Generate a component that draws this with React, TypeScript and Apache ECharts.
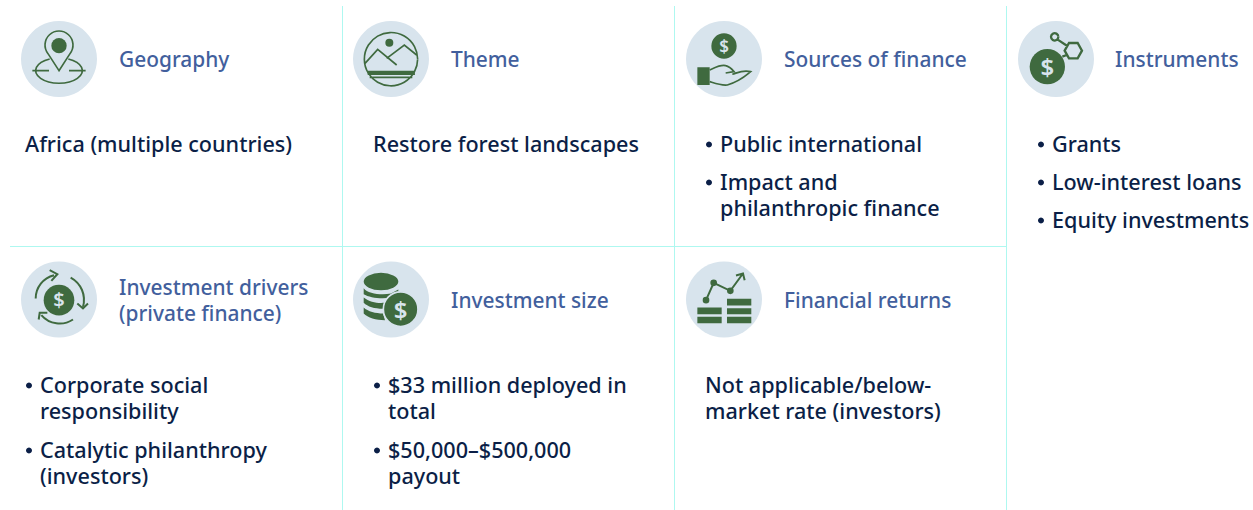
import React, { useEffect, useRef } from "react";
import * as echarts from "echarts";

const FONT = '"Noto Sans"';
const NAVY = "#0b1f47";
const BLUE = "#425f9d";
const GREEN = "#3f6a3f";
const PALE = "#d8e4ed";
const RULE = "#aef8f0";

const headings = ["Geography", "Theme", "Sources of finance", "Instruments"];
const headingsLower = [["Investment drivers", "(private finance)"], ["Investment size"], ["Financial returns"]];

type Line = [string, number, boolean];
const geographyBody: Line[] = [["Africa (multiple countries)", 143.5, false]];
const themeBody: Line[] = [["Restore forest landscapes", 143.5, false]];
const sourcesBody: Line[] = [
  ["Public international", 143.5, true],
  ["Impact and", 181.5, true],
  ["philanthropic finance", 207.5, false],
];
const instrumentsBody: Line[] = [
  ["Grants", 143.5, true],
  ["Low-interest loans", 181.5, true],
  ["Equity investments", 219.5, true],
];
const driversBody: Line[] = [
  ["Corporate social", 384.5, true],
  ["responsibility", 410.5, false],
  ["Catalytic philanthropy", 449.5, true],
  ["(investors)", 475.5, false],
];
const sizeBody: Line[] = [
  ["$33 million deployed in", 384.5, true],
  ["total", 410.5, false],
  ["$50,000–$500,000", 449.5, true],
  ["payout", 475.5, false],
];
const returnsBody: Line[] = [
  ["Not applicable/below-", 384.5, false],
  ["market rate (investors)", 410.5, false],
];

const columnText = [25, 373, 705, 1037];
const columnHeading = [119, 451, 784, 1115];
const columnIcon = [59, 391, 724, 1056];
const rowIcon = [59, 299.5];
const verticals = [342.5, 674.5, 1006.5];

const strokeShapes: Record<string, string> = {
  geoS: "M0 35 L-33 -16 A42 42 0 1 1 33 -16 Z M-28 0 A70 38 0 1 0 28 0 M-80 35 L-30 35 M30 35 L80 35",
  themeS:
    "M80 0 A80 80 0 1 0 80 1 M-78 13 L-40 -29 L17 18 M-13 -2 L40 -42 L77 -12 M-64 55 L64 55",
  handS:
    "M-43 33 C-25 25 -10 16 5 20 C15 22 25 32 30 38 L5 42 M25 46 C40 42 55 32 80 38 C65 50 50 66 10 78 C-10 80 -30 72 -43 68",
  instS: "M4 -59 L34 -39 M19 -7 L32 -12 M26 -25 L39 -48 L65 -48 L78 -25 L65 -2 L39 -2 Z M7 -67 A11 11 0 1 0 7 -66",
  drvS:
    "M-70 -3 A72 72 0 0 1 -15 -73 M-28 -88 L-5 -76 L-23 -56 M35 -66 A76 76 0 0 1 72 22 M55 12 L72 27 L87 12 M42 60 A72 72 0 0 1 -53 47 M-61 60 L-58 40 L-35 40",
  retS: "M-54 2 L-31 -50 L19 -26 L57 -78 M36 -72 L57 -78 L62 -58",
};
const fillShapes: Record<string, string> = {
  geoF: "M-23 -40 A23 23 0 1 1 23 -40 A23 23 0 1 1 -23 -40 Z",
  themeF:
    "M-17 -49 A12 12 0 1 1 7 -49 A12 12 0 1 1 -17 -49 Z M-70 35 L71 35 L72 48 L-70 48 Z",
  handF: "M-80 25 L-43 25 L-43 78 L-80 78 Z M-38 -39 A38 38 0 1 1 38 -39 A38 38 0 1 1 -38 -39 Z",
  instF: "M-79 23 A53 53 0 1 1 27 23 A53 53 0 1 1 -79 23 Z",
  drvF: "M-46 2 A46 46 0 1 1 46 2 A46 46 0 1 1 -46 2 Z",
  sizeF:
    "M-82 -54 A52 26 0 1 1 22 -54 A52 26 0 1 1 -82 -54 Z M-82 -34 C-70 -18 -30 -12 0 -18 L22 -30 L22 -15 L0 -6 C-30 0 -65 -6 -82 -16 Z M-82 -6 C-65 8 -40 12 -20 10 L-24 28 C-50 28 -70 22 -82 10 Z M-82 24 C-70 36 -45 42 -24 42 L-18 62 C-45 62 -70 55 -82 42 Z",
  sizeC: "M-23 29 A52 52 0 1 1 81 29 A52 52 0 1 1 -23 29 Z",
  retF:
    "M-80 24 L-7 24 L-7 44 L-80 44 Z M-80 52 L-7 52 L-7 71 L-80 71 Z M9 -2 L82 -2 L82 18 L9 18 Z M9 26 L82 26 L82 44 L9 44 Z M9 52 L82 52 L82 71 L9 71 Z M-64 2 A10 10 0 1 1 -44 2 A10 10 0 1 1 -64 2 Z M-41 -50 A10 10 0 1 1 -21 -50 A10 10 0 1 1 -41 -50 Z M9 -26 A10 10 0 1 1 29 -26 A10 10 0 1 1 9 -26 Z",
};
[strokeShapes, fillShapes].forEach((set) =>
  Object.keys(set).forEach((k) =>
    echarts.graphic.registerShape(k, echarts.graphic.extendPath(set[k], {}))
  )
);

const icon = (
  cx: number,
  cy: number,
  stroke: string | null,
  fill: string | null,
  lw: number,
  dollar?: [number, number, number],
  ringed?: string
) => {
  const common = { x: cx, y: cy, scaleX: 1 / 3, scaleY: 1 / 3 };
  const els: any[] = [{ type: "circle", shape: { cx, cy, r: 38 }, style: { fill: PALE } }];
  if (fill) els.push({ type: fill, ...common, style: { fill: GREEN, stroke: null } });
  if (stroke) els.push({ type: stroke, ...common, style: { fill: "none", stroke: GREEN, lineWidth: lw } });
  if (ringed) els.push({ type: ringed, ...common, style: { fill: GREEN, stroke: PALE, lineWidth: 5 } });
  if (dollar)
    els.push({
      type: "text",
      style: {
        text: "$",
        x: cx + dollar[0] / 3,
        y: cy + dollar[1] / 3,
        fill: PALE,
        font: `600 ${dollar[2]}px ${FONT}`,
        textAlign: "center",
        textVerticalAlign: "middle",
      },
    });
  return els;
};

const bodyEls = (lines: Line[], x: number, plain: boolean) =>
  lines.flatMap(([t, y, bullet]) => {
    const tx = plain ? x : x + 15;
    const out: any[] = [
      {
        type: "text",
        style: {
          text: t,
          x: tx,
          y,
          fill: NAVY,
          font: `500 21.6px ${FONT}`,
          lineHeight: 22,
          textVerticalAlign: "middle",
        },
      },
    ];
    if (bullet) out.push({ type: "circle", shape: { cx: x + 4, cy: y + 1, r: 3 }, style: { fill: NAVY } });
    return out;
  });

const headingEl = (text: string, x: number, y: number) => ({
  type: "text",
  style: { text, x, y, fill: BLUE, font: `500 20.9px ${FONT}`, lineHeight: 22, textVerticalAlign: "middle" },
});

export default function App() {
  const ref = useRef<HTMLDivElement>(null);
  useEffect(() => {
    const chart = echarts.init(ref.current!, null, { renderer: "svg" });
    const els: any[] = [];
    verticals.forEach((x) =>
      els.push({ type: "line", shape: { x1: x, y1: 6, x2: x, y2: 510 }, style: { stroke: RULE, lineWidth: 1 } })
    );
    els.push({ type: "line", shape: { x1: 10, y1: 246.5, x2: 1007, y2: 246.5 }, style: { stroke: RULE, lineWidth: 1 } });

    els.push(...icon(columnIcon[0], rowIcon[0], "geoS", "geoF", 5));
    els.push(...icon(columnIcon[1], rowIcon[0], "themeS", "themeF", 5));
    els.push(...icon(columnIcon[2], rowIcon[0], "handS", "handF", 5, [0, -39, 17]));
    els.push(...icon(columnIcon[3], rowIcon[0], "instS", "instF", 7, [-26, 23, 24]));
    els.push(...icon(columnIcon[0], rowIcon[1], "drvS", "drvF", 6, [0, 1, 20]));
    els.push(...icon(columnIcon[1], rowIcon[1], null, "sizeF", 4, [29, 29, 24], "sizeC"));
    els.push(...icon(columnIcon[2], rowIcon[1], "retS", "retF", 6));

    headings.forEach((h, i) => els.push(headingEl(h, columnHeading[i], 59)));
    headingsLower.forEach((hs, i) => {
      if (hs.length === 2) {
        els.push(headingEl(hs[0], columnHeading[i], 287));
        els.push(headingEl(hs[1], columnHeading[i], 313));
      } else els.push(headingEl(hs[0], columnHeading[i], 300));
    });

    els.push(...bodyEls(geographyBody, columnText[0], true));
    els.push(...bodyEls(themeBody, columnText[1], true));
    els.push(...bodyEls(sourcesBody, columnText[2], false));
    els.push(...bodyEls(instrumentsBody, columnText[3], false));
    els.push(...bodyEls(driversBody, columnText[0], false));
    els.push(...bodyEls(sizeBody, columnText[1], false));
    els.push(...bodyEls(returnsBody, columnText[2], true));

    chart.setOption({ animation: false, backgroundColor: "#ffffff", graphic: { elements: els } });
    return () => chart.dispose();
  }, []);
  return <div ref={ref} style={{ position: "fixed", left: 0, top: 0, width: 1253, height: 510 }} />;
}
